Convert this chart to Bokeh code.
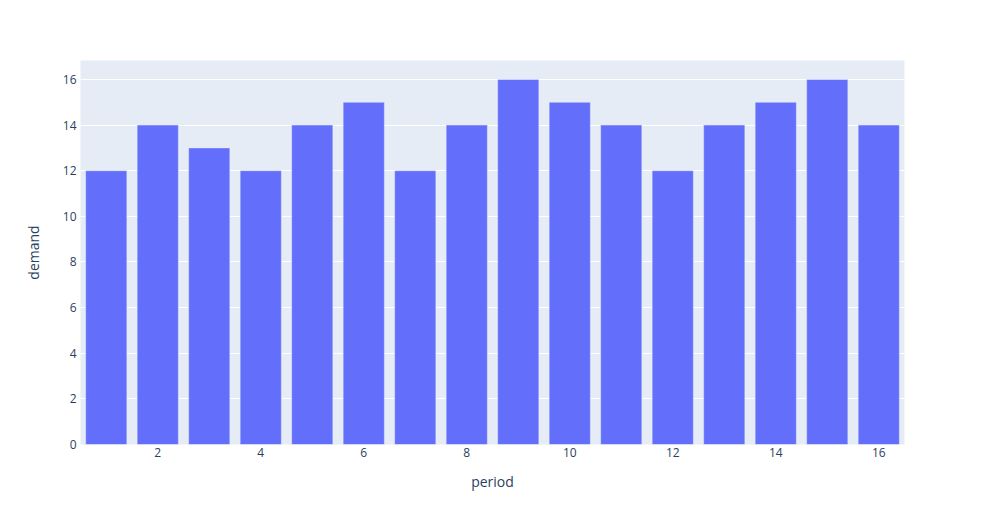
from bokeh.plotting import figure
from bokeh.models import ColumnDataSource, Range1d, FixedTicker
from bokeh.embed import file_html
from bokeh.resources import INLINE

period = list(range(1, 17))
demand = [12, 14, 13, 12, 14, 15, 12, 14, 16, 15, 14, 12, 14, 15, 16, 14]
x_ticks = [2, 4, 6, 8, 10, 12, 14, 16]
y_ticks = [0, 2, 4, 6, 8, 10, 12, 14, 16]

src = ColumnDataSource(dict(period=period, demand=demand))

p = figure(width=967, height=509, output_backend="svg", toolbar_location=None,
           x_range=Range1d(0.5, 16.5), y_range=Range1d(0, 16.83),
           min_border_left=80, min_border_right=63, min_border_top=60, min_border_bottom=65)
p.background_fill_color = "#E5ECF6"
p.border_fill_color = "white"
p.outline_line_color = None

p.vbar(x="period", top="demand", width=0.8, source=src,
       fill_color="#636EFA", line_color="#E5ECF6", line_width=0.5)

TXT = "#2a3f5f"
for ax in (p.xaxis[0], p.yaxis[0]):
    ax.axis_line_color = None
    ax.major_tick_line_color = None
    ax.minor_tick_line_color = None
    ax.major_tick_in = 0
    ax.major_tick_out = 0
    ax.major_label_text_font = "Open Sans"
    ax.major_label_text_font_size = "12px"
    ax.major_label_text_color = TXT
    ax.axis_label_text_font = "Open Sans"
    ax.axis_label_text_font_size = "14px"
    ax.axis_label_text_font_style = "normal"
    ax.axis_label_text_color = TXT

p.xaxis.ticker = FixedTicker(ticks=x_ticks)
p.yaxis.ticker = FixedTicker(ticks=y_ticks)
p.xaxis.axis_label = "period"
p.yaxis.axis_label = "demand"
p.xaxis.major_label_standoff = 3
p.yaxis.major_label_standoff = 4
p.xaxis.axis_label_standoff = 12
p.yaxis.axis_label_standoff = 17

p.xgrid.grid_line_color = None
p.ygrid.grid_line_color = "white"
p.ygrid.ticker = FixedTicker(ticks=y_ticks)

open("out.html", "w").write(file_html(p, INLINE))
